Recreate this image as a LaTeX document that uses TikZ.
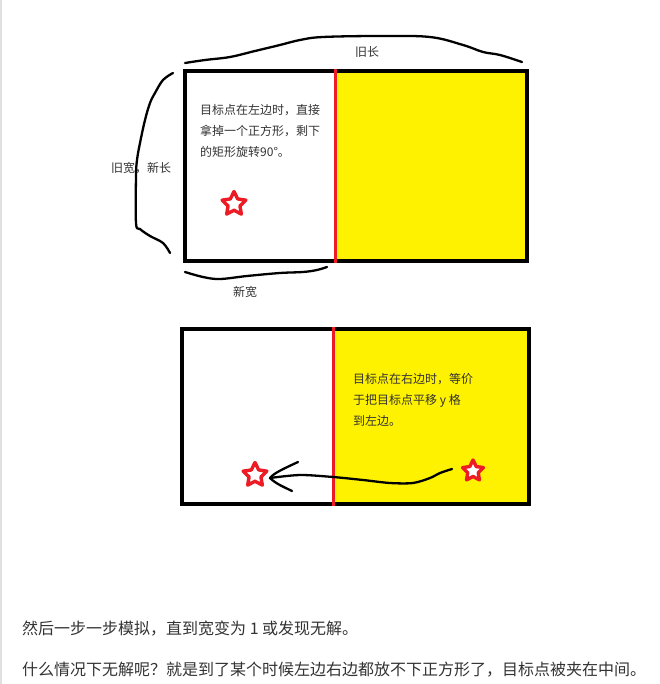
\documentclass[tikz,border=0pt]{standalone}
\usepackage{fontspec}
\setmainfont{Noto Sans CJK SC}
\usetikzlibrary{shapes.geometric}
\definecolor{pyellow}{RGB}{255,242,0}
\definecolor{pred}{RGB}{237,28,36}
\definecolor{txt}{RGB}{51,51,51}
\tikzset{
  frame/.style={line width=4pt, draw=black},
  cut/.style={line width=3pt, draw=pred},
  hand/.style={line width=2.3pt, line cap=round, line join=round},
  redstar/.style={star, star points=5, star point ratio=2.0, draw=pred, fill=white, line width=3.4pt, line join=round, inner sep=0pt},
  small/.style={font=\fontsize{12}{14}\selectfont, text=txt, inner sep=0pt, anchor=base west},
  lbl/.style={font=\fontsize{12}{14}\selectfont, text=txt, inner sep=0pt},
  para/.style={font=\fontsize{16}{20}\selectfont, text=txt, inner sep=0pt, anchor=base west}
}
\begin{document}
\begin{tikzpicture}[x=1pt,y=-1pt]
\useasboundingbox (0,0) rectangle (659,684);
\fill[white] (0,0) rectangle (659,684);
\draw[black!12, line width=1.5pt] (1,0) -- (1,684);

% ---------- top rectangle ----------
\fill[pyellow] (335,71) rectangle (527,261);
\draw[frame] (185,71) rectangle (527,261);
\draw[cut] (335.5,69) -- (335.5,263);

\node[small] (t1) at (200,115) {目标点在左边时，直接};
\node[small] (t2) at (200,136) {拿掉一个正方形，剩下};
\node[small] (t3) at (200,157) {的矩形旋转90°。};
\node[redstar, minimum size=25pt] (s1) at (234,204) {};

% braces
\draw[hand] plot[smooth, tension=0.6] coordinates {(185,63) (205,60) (230,57) (255,51) (280,45) (300,40) (323,37) (380,36) (430,37) (463,45) (483,52) (500,55) (522,62)};
\node[lbl] (oldlen) at (367,52) {旧长};
\draw[hand] plot[smooth, tension=0.6] coordinates {(173,73) (163,80) (155,93) (150,103) (145,120) (140,143) (137,160) (136,177) (136,223) (140,229) (150,236) (163,243) (170,253)};
\node[lbl] (oldwid) at (141,168) {旧宽，新长};
\draw[hand] plot[smooth, tension=0.6] coordinates {(185,272) (203,277) (220,279) (247,276) (280,273) (303,272) (317,270) (327,267)};
\node[lbl] (newwid) at (245,292) {新宽};

% ---------- bottom rectangle ----------
\fill[pyellow] (333,329) rectangle (529,504);
\draw[frame] (182,329) rectangle (529,504);
\draw[cut] (333.5,327) -- (333.5,506);

\node[small] (b1) at (353,383) {目标点在右边时，等价};
\node[small] (b2) at (353,404) {于把目标点平移 y 格};
\node[small] (b3) at (353,425) {到左边。};

\node[redstar, minimum size=25pt] (ls) at (255,475) {};
\node[redstar, minimum size=22pt] (rs) at (473,471) {};

\coordinate (arrS) at (452,469);
\coordinate (tip) at (270,478);
\draw[hand] plot[smooth, tension=0.5] coordinates {(arrS) (440,473) (430,478) (413,483) (390,483) (363,480) (333,477) (300,475) (tip)};
\draw[hand] (298,462) .. controls (283,469) and (274,473) .. (tip) .. controls (276,484) and (284,487) .. (292,491);

% ---------- paragraph ----------
\node[para] (p1) at (22,634) {然后一步一步模拟，直到宽变为 1 或发现无解。};
\node[para] (p2) at (22,675) {什么情况下无解呢？就是到了某个时候左边右边都放不下正方形了，目标点被夹在中间。};
\end{tikzpicture}
\end{document}
